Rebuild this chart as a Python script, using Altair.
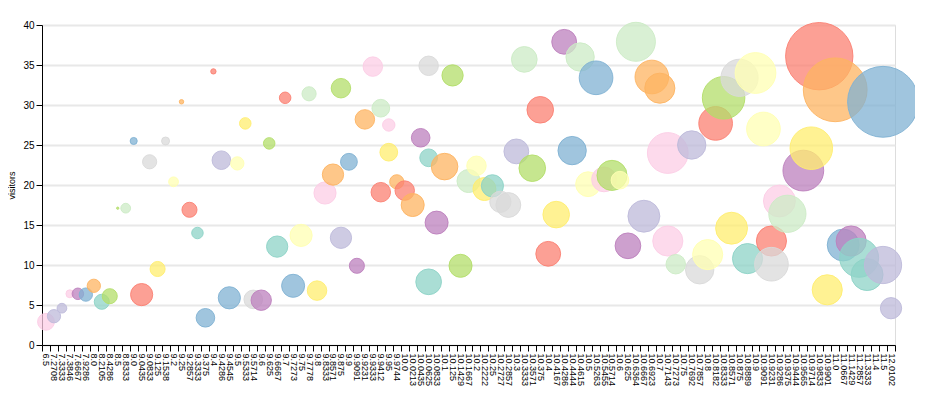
import altair as alt
import pandas as pd

labels = ["6.5", "7.2708", "7.3333", "7.3846", "7.6667", "7.9286",
          "8.0", "8.2105", "8.4286", "8.5", "8.8333",
          "9.0", "9.0435", "9.0833", "9.125", "9.1538", "9.2", "9.25", "9.2857", "9.3333", "9.375",
          "9.4", "9.4286", "9.4545", "9.5", "9.5333", "9.5714", "9.6", "9.625", "9.6667", "9.7",
          "9.7273", "9.75", "9.7778", "9.8", "9.8333", "9.8571", "9.875", "9.9", "9.9091", "9.9231",
          "9.9333", "9.9412", "9.95", "9.9744",
          "10.0", "10.0213", "10.0435", "10.0625", "10.0833", "10.1", "10.125", "10.1429", "10.1667",
          "10.2", "10.2222", "10.25", "10.2727", "10.2857", "10.3", "10.3333", "10.3571", "10.375",
          "10.4", "10.4167", "10.4286", "10.4444", "10.4615", "10.5", "10.5263", "10.5455", "10.5714",
          "10.6", "10.625", "10.6364", "10.6667", "10.6923", "10.7", "10.7143", "10.7273", "10.75",
          "10.7692", "10.7857", "10.8", "10.8182", "10.8333", "10.8571", "10.875", "10.8889", "10.9",
          "10.9091", "10.9231", "10.9286", "10.9375", "10.9444", "10.9565", "10.9714", "10.9833",
          "10.9901",
          "11.0", "11.0667", "11.1429", "11.2857", "11.3333", "11.4", "11.5",
          "12.0102"]

# category index (into labels) of each bubble
cat = [0, 1, 2, 3, 4, 5, 6, 7, 8, 9,
       10, 11, 12, 13, 14, 15, 16, 17, 18, 19,
       20, 21, 22, 23, 24, 25, 26, 27, 28, 29,
       30, 31, 32, 33, 34, 35, 36, 37, 37, 38,
       39, 40, 41, 42, 42, 43, 43, 44, 45, 46,
       47, 48, 48, 48, 49, 50, 51, 52, 53, 54,
       55, 56, 57, 58, 59, 60, 61, 62, 63, 64,
       65, 66, 67, 68, 69, 70, 71, 72, 73, 74,
       75, 76, 77, 78, 78, 79, 81, 82, 83, 84,
       85, 86, 87, 88, 89, 90, 91, 91, 92, 93,
       95, 96, 97, 98, 99, 100, 101, 102, 103, 105,
       105, 106]

visitors = [2.9, 3.6, 4.6, 6.4, 6.4, 6.3, 7.4, 5.4, 6.1, 17.1,
            17.1, 25.5, 6.3, 22.9, 9.5, 25.5, 20.4, 30.4, 16.9, 14.0,
            3.4, 34.2, 23.1, 5.9, 22.7, 27.7, 5.7, 5.6, 25.2, 12.3,
            30.9, 7.4, 13.7, 31.4, 6.8, 19.0, 21.3, 13.4, 32.1, 22.9,
            9.9, 28.2, 34.8, 19.1, 29.6, 27.5, 24.1, 20.4, 19.3, 17.5,
            25.9, 34.9, 23.4, 7.9, 15.3, 22.3, 33.7, 9.9, 20.5, 22.4,
            19.5, 19.9, 17.9, 17.5, 24.2, 35.7, 22.1, 29.4, 11.4, 16.3,
            37.9, 24.3, 36.0, 20.1, 33.4, 20.7, 21.2, 20.6, 12.4, 37.9,
            16.1, 33.5, 32.1, 13.0, 24.0, 10.1, 25.0, 9.4, 11.3, 27.7,
            30.9, 14.6, 33.4, 10.8, 34.0, 27.0, 13.0, 10.1, 18.0, 16.4,
            21.8, 24.6, 36.1, 6.9, 31.9, 12.5, 13.0, 10.9, 8.8, 10.0,
            30.4, 4.6]

pages = [9.5, 7.5, 5.5, 4.5, 6.5, 7.5, 7.5, 8.5, 8.5, 1.3,
         5.5, 4, 12.5, 8, 8.5, 4.5, 5.5, 2.5, 8.5, 6.5,
         10.5, 3, 10.5, 12.5, 7.5, 6.5, 10.5, 11.5, 6.5, 12,
         6.5, 13, 12.5, 8, 11, 12.5, 12, 12, 11, 9.5,
         8.5, 11, 11, 11, 10, 7, 10, 8, 11, 13,
         10.5, 11, 10, 14.5, 13, 15, 12, 13, 13, 11,
         13, 12.5, 12, 14, 14, 14.5, 15, 15, 14, 15,
         14, 16, 16, 14, 19, 14, 17, 10, 14.5, 22,
         18, 19, 17, 17, 23, 11, 16, 16, 17, 19,
         24, 18, 21, 17, 23, 19, 17, 19, 18, 21,
         23, 24, 38, 17, 36, 18, 17, 22, 18, 21,
         40, 12]

groups = ["pink", "lavender", "lavender", "pink", "purple", "blue", "orange", "teal", "green", "green",
          "lightgreen", "blue", "red", "grey", "yellow", "grey", "lightyellow", "orange", "red", "teal",
          "blue", "red", "lavender", "blue", "lightyellow", "yellow", "grey", "purple", "green", "teal",
          "red", "blue", "lightyellow", "lightgreen", "yellow", "pink", "orange", "lavender", "green", "blue",
          "purple", "orange", "pink", "red", "lightgreen", "pink", "yellow", "orange", "red", "orange",
          "purple", "grey", "teal", "teal", "purple", "orange", "green", "green", "lightgreen", "lightyellow",
          "yellow", "teal", "grey", "grey", "lavender", "lightgreen", "green", "red", "red", "yellow",
          "purple", "blue", "lightgreen", "lightyellow", "blue", "pink", "green", "lightyellow", "purple", "lightgreen",
          "lavender", "orange", "orange", "pink", "pink", "lightgreen", "lavender", "grey", "lightyellow", "red",
          "green", "yellow", "grey", "teal", "lightyellow", "lightyellow", "red", "grey", "pink", "lightgreen",
          "purple", "yellow", "red", "yellow", "orange", "blue", "purple", "teal", "teal", "lavender",
          "blue", "lavender"]

group_names = ["teal", "lightyellow", "lavender", "red", "blue", "orange",
               "green", "pink", "grey", "purple", "lightgreen", "yellow"]
palette = ["#8dd3c7", "#ffffb3", "#bebada", "#fb8072", "#80b1d3", "#fdb462",
           "#b3de69", "#fccde5", "#d9d9d9", "#bc80bd", "#ccebc5", "#ffed6f"]

df = pd.DataFrame({
    "label": [labels[c] for c in cat],
    "visitors": visitors,
    "pages": pages,
    "group": groups,
})

chart = alt.Chart(df).mark_circle(
    fillOpacity=0.75, strokeWidth=1, strokeOpacity=0.9
).encode(
    x=alt.X("label:N", sort=labels,
            scale=alt.Scale(type="band", paddingInner=0, paddingOuter=0, domain=labels),
            axis=alt.Axis(title=None, labelAngle=90, labelOverlap=False, labelFontSize=9,
                          labelColor="#000", tickColor="#000", domainColor="#000",
                          tickSize=6, labelPadding=2, grid=False, labelLimit=200,
                          tickBand="extent")),
    y=alt.Y("visitors:Q", scale=alt.Scale(domain=[0, 40], nice=False),
            axis=alt.Axis(title="visitors", values=[0, 5, 10, 15, 20, 25, 30, 35, 40],
                          labelFontSize=10, labelColor="#000", tickColor="#000",
                          domainColor="#000", tickSize=6, titleFontSize=9,
                          titleFontWeight="normal", titleColor="#000",
                          gridColor="#e8e8e8", gridWidth=2, titlePadding=6)),
    size=alt.Size("pages:Q", scale=alt.Scale(type="pow", exponent=2, domain=[0, 40],
                                             range=[0, 5026]), legend=None),
    color=alt.Color("group:N", scale=alt.Scale(domain=group_names, range=palette), legend=None),
    stroke=alt.Stroke("group:N", scale=alt.Scale(domain=group_names, range=palette), legend=None),
).properties(
    width=853, height=320,
    autosize=alt.AutoSizeParams(type="none"),
    padding={"left": 34, "top": 17, "right": 20, "bottom": 80},
).configure_view(strokeWidth=0).configure(font="Liberation Sans")

chart.save("out.html", embed_options={"renderer": "svg", "actions": False})
